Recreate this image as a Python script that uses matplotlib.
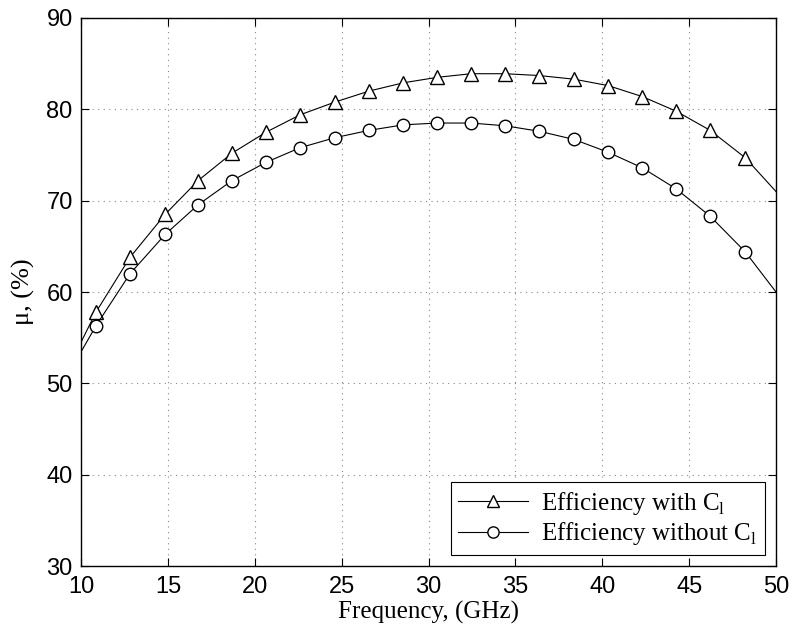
import numpy as np
import matplotlib
matplotlib.use('Agg')
import matplotlib.pyplot as plt

# frequencies (GHz) - curve ends at 10 and 50, markers on the inner points
freq = [10.0, 10.86, 12.82, 14.84, 16.74, 18.69, 20.65, 22.61, 24.62, 26.58, 28.54,
        30.49, 32.45, 34.41, 36.37, 38.38, 40.34, 42.30, 44.25, 46.21, 48.23, 50.0]
eff_with = [54.5, 57.8, 63.8, 68.5, 72.2, 75.2, 77.5, 79.4, 80.8, 82.0, 82.9,
            83.5, 83.9, 83.9, 83.7, 83.3, 82.6, 81.4, 79.8, 77.7, 74.7, 71.0]
eff_without = [53.45, 56.3, 62.0, 66.3, 69.55, 72.2, 74.2, 75.8, 76.9, 77.7, 78.3,
               78.5, 78.5, 78.2, 77.6, 76.7, 75.3, 73.6, 71.3, 68.3, 64.4, 60.0]

serif = 'Liberation Serif'
sans = 'Liberation Sans'
plt.rcParams['mathtext.fontset'] = 'custom'
plt.rcParams['mathtext.rm'] = serif

fig = plt.figure(figsize=(7.92, 6.36), dpi=100)
ax = fig.add_axes([0.1023, 0.110, 0.8775, 0.8617])

marks = list(range(1, len(freq) - 1))
ax.plot(freq, eff_with, '-', color='black', lw=0.8, marker='^', markersize=10,
        markerfacecolor='white', markeredgecolor='black', markeredgewidth=1.0,
        markevery=marks, label='Efficiency with C$_\\mathregular{l}$')
ax.plot(freq, eff_without, '-', color='black', lw=0.8, marker='o', markersize=9,
        markerfacecolor='white', markeredgecolor='black', markeredgewidth=1.0,
        markevery=marks, label='Efficiency without C$_\\mathregular{l}$')

ax.set_xlim(10, 50)
ax.set_ylim(30, 90)
ax.set_xticks(np.arange(10, 51, 5))
ax.set_yticks(np.arange(30, 91, 10))
ax.grid(True, linestyle=(0, (1, 4)), color='#888888', linewidth=0.8)
ax.tick_params(direction='in', top=True, right=True, length=6, width=0.8,
               labelsize=17)
ax.tick_params(axis='x', pad=7)
ax.tick_params(axis='y', pad=6)
for lab in ax.get_xticklabels() + ax.get_yticklabels():
    lab.set_family(sans)
for sp in ax.spines.values():
    sp.set_linewidth(1.0)

ax.set_xlabel('Frequency, (GHz)', family=serif, fontsize=18, labelpad=2)
ax.set_ylabel('\u03bc, (%)', family=serif, fontsize=19, labelpad=8)

leg = ax.legend(loc='lower right', prop={'family': serif, 'size': 18},
                fancybox=False, edgecolor='black', framealpha=1,
                borderpad=0.3, handlelength=2.8, handletextpad=0.5,
                labelspacing=0.15, borderaxespad=0.45, markerscale=0.9)
leg.get_frame().set_linewidth(0.8)

fig.savefig('out.png', dpi=100)
